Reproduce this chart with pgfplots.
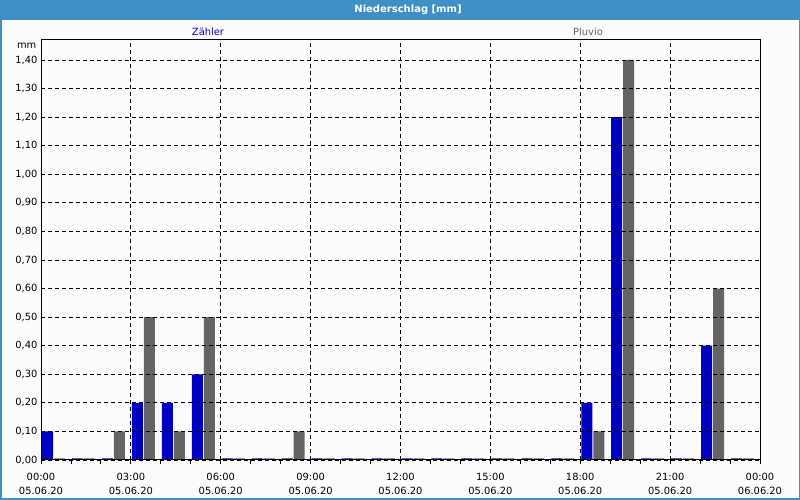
\documentclass[border=0pt]{standalone}
\usepackage{pgfplots}
\usepackage{pgfplotstable}
\pgfplotsset{compat=1.18}
\usepackage{fontspec}
\setmainfont{DejaVu Sans}
\definecolor{titlebar}{HTML}{3D8FC6}
\definecolor{barblue}{HTML}{0000C0}
\definecolor{bargray}{HTML}{646464}
\definecolor{bg}{HTML}{FBFCFB}

\pgfplotstableread{
h z p
0 0.10 0
1 0 0
2 0 0.10
3 0.20 0.50
4 0.20 0.10
5 0.30 0.50
6 0 0
7 0 0
8 0 0.10
9 0 0
10 0 0
11 0 0
12 0 0
13 0 0
14 0 0
15 0 0
16 0 0
17 0 0
18 0.20 0.10
19 1.20 1.40
20 0 0
21 0 0
22 0.40 0.60
23 0 0
}\data

\begin{document}
\begin{tikzpicture}
\useasboundingbox (0pt,0pt) rectangle (800pt,500pt);
\fill[bg] (0pt,0pt) rectangle (800pt,500pt);
\fill[titlebar] (0pt,480pt) rectangle (800pt,500pt);
\draw[titlebar, line width=3pt] (0pt,0pt) rectangle (800pt,500pt);
\node[white, font=\fontsize{10}{12}\selectfont\bfseries] at (408pt,490pt) {Niederschlag [mm]};
\node[barblue, font=\fontsize{9.9}{12}\selectfont] at (208pt,468pt) {Zähler};
\node[bargray, font=\fontsize{9.9}{12}\selectfont] at (588pt,468pt) {Pluvio};
\node[anchor=east, inner sep=0pt, font=\fontsize{9.9}{12}\selectfont] at (36.5pt,454pt) {mm};
\begin{axis}[
  at={(41pt,40pt)}, anchor=south west,
  scale only axis, width=719pt, height=420pt,
  xmin=0, xmax=24, ymin=0, ymax=1.47,
  axis on top,
  axis line style={black, line width=1pt},
  grid=major,
  major grid style={black, line width=0.9pt, dash pattern=on 4pt off 3pt},
  xtick={0,3,...,24},
  minor x tick num=2,
  xtick pos=bottom, ytick pos=left,
  tick align=outside,
  major tick length=4pt, minor tick length=4pt,
  every tick/.style={black, line width=0.9pt},
  ytick={0,0.1,...,1.41},
  ytick style={draw=none},
  xticklabels={{00:00\\05.06.20},{03:00\\05.06.20},{06:00\\05.06.20},{09:00\\05.06.20},{12:00\\05.06.20},{15:00\\05.06.20},{18:00\\05.06.20},{21:00\\05.06.20},{00:00\\06.06.20}},
  xticklabel style={align=center, font=\fontsize{9.9}{13.3}\selectfont, yshift=-6pt},
  yticklabel style={font=\fontsize{9.9}{12}\selectfont, xshift=4pt},
  /pgf/number format/.cd, assume math mode=true, fixed, fixed zerofill, precision=2, use comma,
]
\addplot[ybar, bar width=11pt, bar shift=6.5pt, fill=barblue, draw=none]
  table[x=h, y expr={max(\thisrow{z},0.006)}] {\data};
\addplot[ybar, bar width=11pt, bar shift=18.5pt, fill=bargray, draw=none]
  table[x=h, y expr={max(\thisrow{p},0.006)}] {\data};
\end{axis}
\end{tikzpicture}
\end{document}
